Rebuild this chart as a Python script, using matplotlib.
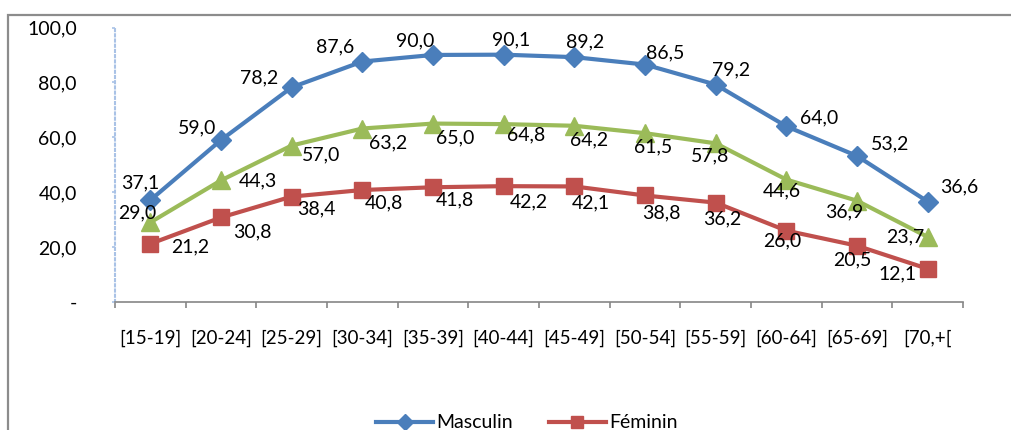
import matplotlib.pyplot as plt
from matplotlib.patches import Rectangle
from matplotlib.lines import Line2D
import numpy as np

plt.rcParams['font.family'] = ['Lato', 'DejaVu Sans']

# données
categories = ['[15-19]', '[20-24]', '[25-29]', '[30-34]', '[35-39]', '[40-44]',
              '[45-49]', '[50-54]', '[55-59]', '[60-64]', '[65-69]', '[70,+[']
masculin = [37.1, 59.0, 78.2, 87.6, 90.0, 90.1, 89.2, 86.5, 79.2, 64.0, 53.2, 36.6]
ensemble = [29.0, 44.3, 57.0, 63.2, 65.0, 64.8, 64.2, 61.5, 57.8, 44.6, 36.9, 23.7]
feminin = [21.2, 30.8, 38.4, 40.8, 41.8, 42.2, 42.1, 38.8, 36.2, 26.0, 20.5, 12.1]
yticks = [0, 20, 40, 60, 80, 100]
ytick_labels = ['-', '20,0', '40,0', '60,0', '80,0', '100,0']

# décalage des étiquettes (pixels)
off_m = [(-10, 17), (-24, 12), (-33, 9), (-27, 15), (-18, 14), (7, 15),
         (11, 15), (20, 12), (15, 15), (33, 8), (33, 12), (32, 15)]
off_e = [(-13, 10), (37, 0), (29, -9), (26, -14), (22, -14), (22, -11),
         (15, -14), (8, -14), (-6, -13), (-4, -11), (-13, -11), (-22, 0)]
off_f = [(40, -3), (31, -14), (25, -12), (22, -13), (22, -13), (25, -16),
         (17, -16), (16, -17), (7, -16), (-4, -10), (-5, -14), (-30, -5)]

bleu = '#4A7EBB'
rouge = '#C0504D'
vert = '#9BBB59'
fs = 14

fig = plt.figure(figsize=(10.12, 4.30), dpi=100)
ax = fig.add_axes([115 / 1012, 1 - 302 / 430, 848 / 1012, 274.5 / 430])

x = np.arange(len(categories))
ax.plot(x, masculin, color=bleu, lw=3, marker='D', ms=10, zorder=3)
ax.plot(x, feminin, color=rouge, lw=3, marker='s', ms=12, zorder=3)
ax.plot(x, ensemble, color=vert, lw=3, marker='^', ms=13, zorder=4)

for serie, offs in [(masculin, off_m), (ensemble, off_e), (feminin, off_f)]:
    for i, v in enumerate(serie):
        ax.annotate(f'{v:.1f}'.replace('.', ','), (x[i], v), xytext=offs[i],
                    textcoords='offset pixels', ha='center', va='center',
                    fontsize=fs, color='black', zorder=5)

ax.set_xlim(-0.5, len(categories) - 0.5)
ax.set_ylim(0, 100)
ax.set_yticks(yticks)
ax.set_yticklabels(ytick_labels)
ax.set_xticks(x)
ax.set_xticklabels(categories)
ax.set_xticks(np.arange(len(categories) + 1) - 0.5, minor=True)

ax.tick_params(axis='y', length=2.5, width=1.2, color='#A9C2E6', pad=25, labelsize=fs)
ax.tick_params(axis='x', which='major', length=0, pad=20, labelsize=13.5)
ax.tick_params(axis='x', which='minor', length=4.5, width=1.2, color='#868686')

for s in ['top', 'right']:
    ax.spines[s].set_visible(False)
ax.spines['left'].set_color('#A9C2E6')
ax.spines['left'].set_linestyle((0, (1, 1.5)))
ax.spines['left'].set_linewidth(1.5)
ax.spines['bottom'].set_color('#868686')
ax.spines['bottom'].set_linewidth(1.2)

# cadre du graphique
fig.patches.append(Rectangle((8 / 1012, -0.1), 1.1, 1.1 - 15 / 430, transform=fig.transFigure,
                             fill=False, edgecolor='#8C8C8C', lw=1.6, zorder=0))

handles = [Line2D([], [], color=bleu, lw=3, marker='D', ms=8),
           Line2D([], [], color=rouge, lw=3, marker='s', ms=9)]
fig.legend(handles, ['Masculin', 'Féminin'], loc='center', bbox_to_anchor=(0.521, 7 / 430),
           ncol=2, frameon=False, fontsize=fs, handlelength=2.9, handletextpad=0.2,
           columnspacing=1.85)

fig.savefig('out.png', dpi=100)
